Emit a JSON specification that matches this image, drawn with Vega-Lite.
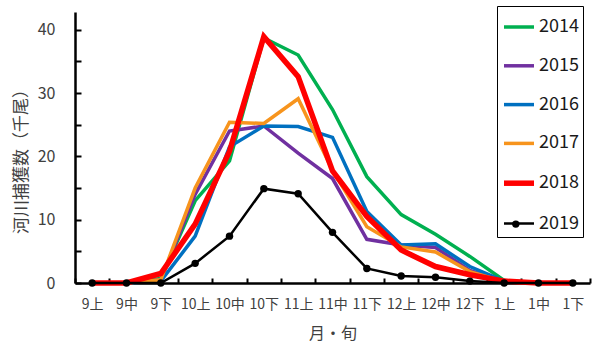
{
  "$schema": "https://vega.github.io/schema/vega-lite/v6.json",
  "width": 515,
  "height": 271,
  "autosize": "none",
  "padding": {"left": 75, "top": 12, "right": 4, "bottom": 62},
  "config": {"font": "Noto Sans CJK JP", "view": {"stroke": null}},
  "data": {
    "values": [
      {"p": "9上", "2014": 0, "2015": 0, "2016": 0, "2017": 0, "2018": 0, "2019": 0},
      {"p": "9中", "2014": 0, "2015": 0, "2016": 0, "2017": 0, "2018": 0, "2019": 0},
      {"p": "9下", "2014": 0.7, "2015": 0.5, "2016": 0.3, "2017": 0.5, "2018": 1.5, "2019": 0},
      {"p": "10上", "2014": 13, "2015": 14, "2016": 7.4, "2017": 15, "2018": 9.3, "2019": 3.1},
      {"p": "10中", "2014": 19.3, "2015": 24, "2016": 21.5, "2017": 25.4, "2018": 20.8, "2019": 7.4},
      {"p": "10下", "2014": 38.7, "2015": 24.8, "2016": 24.8, "2017": 25.2, "2018": 38.9, "2019": 14.9},
      {"p": "11上", "2014": 36, "2015": 20.5, "2016": 24.7, "2017": 29.1, "2018": 32.6, "2019": 14.1},
      {"p": "11中", "2014": 27.4, "2015": 16.5, "2016": 23, "2017": 17.8, "2018": 17.7, "2019": 8},
      {"p": "11下", "2014": 16.8, "2015": 6.9, "2016": 11.3, "2017": 8.9, "2018": 10.5, "2019": 2.3},
      {"p": "12上", "2014": 10.8, "2015": 6, "2016": 6, "2017": 5.7, "2018": 5.2, "2019": 1.1},
      {"p": "12中", "2014": 7.7, "2015": 5.6, "2016": 6.2, "2017": 4.9, "2018": 2.6, "2019": 0.9},
      {"p": "12下", "2014": 4.2, "2015": 2, "2016": 2.6, "2017": 1.8, "2018": 1.3, "2019": 0.3},
      {"p": "1上", "2014": 0.4, "2015": 0.2, "2016": 0.3, "2017": 0.2, "2018": 0.3, "2019": 0},
      {"p": "1中", "2014": 0, "2015": 0, "2016": 0, "2017": 0, "2018": 0, "2019": 0},
      {"p": "1下", "2014": 0, "2015": 0, "2016": 0, "2017": 0, "2018": 0, "2019": 0}
    ]
  },
  "transform": [
    {"fold": ["2014", "2015", "2016", "2017", "2018", "2019"], "as": ["year", "v"]}
  ],
  "encoding": {
    "x": {
      "field": "p",
      "type": "ordinal",
      "scale": {
        "type": "band",
        "domain": ["9上", "9中", "9下", "10上", "10中", "10下", "11上", "11中", "11下", "12上", "12中", "12下", "1上", "1中", "1下"],
        "paddingInner": 0,
        "paddingOuter": 0
      },
      "axis": {
        "title": "月・旬",
        "tickBand": "extent",
        "grid": false,
        "domainColor": "#000",
        "domainWidth": 2.5,
        "tickColor": "#000",
        "tickWidth": 2,
        "tickSize": -5,
        "labelAngle": 0,
        "labelFontSize": 14,
        "labelColor": "#404040",
        "labelPadding": 19,
        "titleFontSize": 16,
        "titleFontWeight": "normal",
        "titleColor": "#404040",
        "titlePadding": 14
      }
    },
    "y": {
      "field": "v",
      "type": "quantitative",
      "scale": {"domain": [0, 42.8], "nice": false},
      "axis": {
        "values": [0, 5, 10, 15, 20, 25, 30, 35, 40],
        "labelExpr": "datum.value % 10 === 0 ? datum.label : ''",
        "title": "河川捕獲数（千尾）",
        "grid": false,
        "domainColor": "#000",
        "domainWidth": 2.5,
        "tickColor": "#000",
        "tickWidth": 2,
        "tickSize": -6,
        "labelFontSize": 16,
        "labelColor": "#404040",
        "labelPadding": 26,
        "titleFontSize": 17,
        "titleFontWeight": "normal",
        "titleColor": "#404040",
        "titleX": -54,
        "titleY": 145,
        "titleAlign": "center",
        "titleBaseline": "middle"
      }
    }
  },
  "layer": [
    {
      "mark": {"type": "line", "strokeJoin": "miter"},
      "encoding": {
        "color": {
          "field": "year",
          "type": "nominal",
          "scale": {
            "domain": ["2014", "2015", "2016", "2017", "2018", "2019"],
            "range": ["#00B050", "#7030A0", "#0070C0", "#F7941D", "#FF0000", "#000000"]
          },
          "legend": {
            "orient": "none",
            "legendX": 422,
            "legendY": -6,
            "title": null,
            "padding": 4,
            "strokeColor": "#000",
            "symbolType": "stroke",
            "symbolSize": 900,
            "rowPadding": 12.8,
            "labelOffset": 2,
            "labelFontSize": 18,
            "labelColor": "#1a1a1a"
          }
        },
        "strokeWidth": {
          "field": "year",
          "type": "nominal",
          "scale": {
            "type": "ordinal",
            "domain": ["2014", "2015", "2016", "2017", "2018", "2019"],
            "range": [3.5, 3.5, 3.5, 3.5, 5.5, 2.5]
          },
          "legend": {
            "orient": "none",
            "legendX": 422,
            "legendY": -6,
            "title": null,
            "padding": 4,
            "strokeColor": "#000",
            "symbolType": "stroke",
            "symbolSize": 900,
            "rowPadding": 12.8,
            "labelOffset": 2,
            "labelFontSize": 18,
            "labelColor": "#1a1a1a"
          }
        }
      }
    },
    {
      "transform": [{"filter": "datum.year === '2019'"}],
      "mark": {"type": "point", "filled": true, "color": "#000", "size": 55, "opacity": 1},
      "encoding": {
        "shape": {
          "field": "year",
          "type": "nominal",
          "scale": {"domain": ["2019"], "range": ["circle"]},
          "legend": {
            "orient": "none",
            "legendX": 436.3,
            "legendY": 207.6,
            "title": null,
            "padding": 0,
            "symbolSize": 55,
            "symbolFillColor": "#000",
            "symbolStrokeColor": "#000",
            "symbolOpacity": 1,
            "labelExpr": "''",
            "labelFontSize": 6
          }
        }
      }
    }
  ]
}
